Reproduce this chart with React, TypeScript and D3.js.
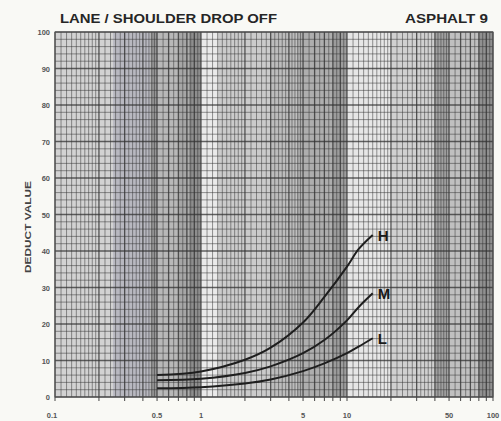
import React from "react";
import * as d3 from "d3";

const W = 501;
const H = 421;

const titleLeft = "LANE / SHOULDER DROP OFF";
const titleRight = "ASPHALT 9";
const yAxisLabel = "DEDUCT VALUE";

const xTickValues = [0.1, 0.5, 1, 5, 10, 50, 100];
const xTickLabels = ["0.1", "0.5", "1", "5", "10", "50", "100"];
const yTickValues = [0, 10, 20, 30, 40, 50, 60, 70, 80, 90, 100];

const curveX = [0.5, 1, 2, 3, 5, 7, 10, 12, 15];
const highValues = [6.0, 7.0, 10.2, 13.5, 20.4, 27.4, 35.7, 40.5, 44.4];
const mediumValues = [4.6, 5.0, 6.6, 8.4, 12.0, 15.6, 21.0, 24.6, 28.4];
const lowValues = [2.4, 2.7, 3.7, 4.8, 7.1, 9.2, 12.0, 13.8, 16.1];
const severityNames = ["H", "M", "L"];
const severityValues = [highValues, mediumValues, lowValues];

// shading bands of the scanned paper, in data units (x from, x to, tone)
const bandFrom = [0.1, 0.25, 0.45, 0.5, 0.7, 0.82, 1, 1.3, 3, 4.5, 8, 10, 20, 40, 50, 80];
const bandTo = [0.25, 0.45, 0.5, 0.7, 0.82, 1, 1.3, 3, 4.5, 8, 10, 20, 40, 50, 80, 100];
const bandTone = ["#d2d2d2", "#b8b8c0", "#949494", "#b8b8b8", "#a6a6a6", "#8e8e8e", "#eaeaea", "#cbcbcb", "#bcbcbc", "#aeaeae", "#9c9c9c", "#e6e6e6", "#d0d0d0", "#a0a0a0", "#c0c0c0", "#909090"];

export default function App() {
  const left = 55;
  const right = 493;
  const top = 32;
  const bottom = 397;

  const x = d3.scaleLog().domain([0.1, 100]).range([left, right]);
  const y = d3.scaleLinear().domain([0, 100]).range([bottom, top]);

  const vLines: { v: number; major: boolean }[] = [];
  [0.1, 1, 10].forEach((dec) => {
    for (let m = 1; m < 2 - 1e-9; m += 0.1) vLines.push({ v: dec * m, major: Math.abs(m - Math.round(m)) < 1e-6 });
    for (let m = 2; m < 5 - 1e-9; m += 0.2) vLines.push({ v: dec * m, major: Math.abs(m - Math.round(m)) < 1e-6 });
    for (let m = 5; m < 10 - 1e-9; m += 0.5) vLines.push({ v: dec * m, major: Math.abs(m - Math.round(m)) < 1e-6 });
  });
  vLines.push({ v: 100, major: true });

  const hLines: { v: number; major: boolean }[] = [];
  for (let v = 0; v <= 100; v += 2) hLines.push({ v, major: v % 10 === 0 });

  const minorTicks: number[] = [];
  [0.1, 1, 10].forEach((dec) => {
    for (let m = 1; m <= 9; m++) minorTicks.push(dec * m);
  });
  minorTicks.push(100);

  const line = d3
    .line<[number, number]>()
    .x((d) => x(d[0]))
    .y((d) => y(d[1]))
    .curve(d3.curveCatmullRom.alpha(0.5));

  return (
    <svg width={W} height={H} style={{ position: "absolute", left: 0, top: 0, display: "block" }}>
      <rect x={0} y={0} width={W} height={H} fill="#f9f9f5" />
      <text x={60} y={23} fontFamily="Liberation Sans, Arial, sans-serif" fontWeight="bold" fontSize={13} fill="#262626" textLength={217} lengthAdjust="spacingAndGlyphs">
        {titleLeft}
      </text>
      <text x={405} y={23} fontFamily="Liberation Sans, Arial, sans-serif" fontWeight="bold" fontSize={13} fill="#262626" textLength={83} lengthAdjust="spacingAndGlyphs">
        {titleRight}
      </text>

      {bandFrom.map((f, i) => (
        <rect key={"b" + i} x={x(f)} y={top} width={x(bandTo[i]) - x(f)} height={bottom - top} fill={bandTone[i]} />
      ))}

      {vLines.map((l, i) => (
        <line key={"v" + i} x1={x(l.v)} x2={x(l.v)} y1={top} y2={bottom} stroke="#333" strokeOpacity={l.major ? 0.8 : 0.5} strokeWidth={l.major ? 1.3 : 1} />
      ))}
      {hLines.map((l, i) => (
        <line key={"h" + i} x1={left} x2={right} y1={y(l.v)} y2={y(l.v)} stroke="#333" strokeOpacity={l.major ? 0.75 : 0.5} strokeWidth={l.major ? 1.3 : 1} />
      ))}
      <rect x={left} y={top} width={right - left} height={bottom - top} fill="none" stroke="#555" strokeWidth={1} />

      {minorTicks.map((t, i) => (
        <line key={"t" + i} x1={x(t)} x2={x(t)} y1={bottom} y2={bottom + 4} stroke="#444" strokeWidth={1} />
      ))}

      {yTickValues.map((v) => (
        <text key={"y" + v} x={50} y={y(v) + 3} textAnchor="end" fontFamily="Liberation Sans, Arial, sans-serif" fontWeight="bold" fontSize={7.5} fill="#555">
          {v}
        </text>
      ))}
      {xTickValues.map((v, i) => (
        <text key={"x" + v} x={x(v) + (i === 0 ? -3 : 0)} y={418} textAnchor="middle" fontFamily="Liberation Sans, Arial, sans-serif" fontWeight="bold" fontSize={7.5} fill="#555">
          {xTickLabels[i]}
        </text>
      ))}

      <text transform={`translate(31, 227) rotate(-90)`} textAnchor="middle" fontFamily="Liberation Sans, Arial, sans-serif" fontWeight="bold" fontSize={8.5} fill="#444" textLength={92} lengthAdjust="spacingAndGlyphs">
        {yAxisLabel}
      </text>

      {severityValues.map((vals, si) => {
        const pts = curveX.map((cx, i) => [cx, vals[i]] as [number, number]);
        const last = pts[pts.length - 1];
        return (
          <g key={"c" + si}>
            <path d={line(pts) || ""} fill="none" stroke="#1e1e1e" strokeWidth={2} />
            <text x={x(last[0]) + 5} y={y(last[1]) + 6} fontFamily="Liberation Sans, Arial, sans-serif" fontWeight="bold" fontSize={15} fill="#1a1a1a">
              {severityNames[si]}
            </text>
          </g>
        );
      })}
    </svg>
  );
}
